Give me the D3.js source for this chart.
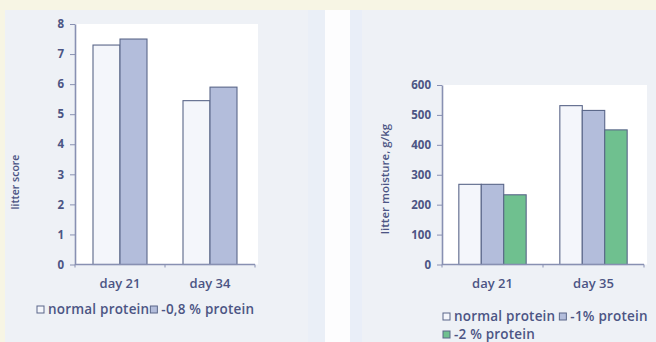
<!DOCTYPE html>
<html>
<head>
<meta charset="utf-8">
<script src="https://cdn.jsdelivr.net/npm/d3@7"></script>
<style>
  html, body { margin: 0; padding: 0; background: #f7f5e4; }
  svg { display: block; }
  text { font-family: "Open Sans", "Noto Sans", sans-serif; fill: #4c5584; }
</style>
</head>
<body>
<svg id="chart" width="656" height="342"></svg>
<script>
// Litter score panel
const scoreDays = ["day 21", "day 34"];
const scoreSeries = ["normal protein", "-0,8 % protein"];
const scoreNormal = [7.3, 5.45];
const scoreReduced = [7.5, 5.9];
const scoreTicks = [0, 1, 2, 3, 4, 5, 6, 7, 8];

// Litter moisture panel
const moistDays = ["day 21", "day 35"];
const moistSeries = ["normal protein", "-1% protein", "-2 % protein"];
const moistNormal = [268, 531];
const moistMinus1 = [268, 515];
const moistMinus2 = [233, 450];
const moistTicks = [0, 100, 200, 300, 400, 500, 600];

const fills = ["#f4f6fb", "#b3bddb", "#6fc08f"];
const barStroke = "#5a6689";
const axisColor = "#8890b2";

const svg = d3.select("#chart");

// panel backgrounds
svg.append("rect").attr("x", 5).attr("y", 10).attr("width", 320).attr("height", 332).attr("fill", "#eef1f6");
svg.append("rect").attr("x", 308).attr("y", 10).attr("width", 17).attr("height", 332).attr("fill", "#eaeff7");
svg.append("rect").attr("x", 325).attr("y", 10).attr("width", 25).attr("height", 332).attr("fill", "#fdfdfe");
svg.append("rect").attr("x", 350).attr("y", 10).attr("width", 306).attr("height", 332).attr("fill", "#eef1f6");
svg.append("rect").attr("x", 350).attr("y", 10).attr("width", 12).attr("height", 332).attr("fill", "#e9eef8");

function panel(cfg) {
  const g = svg.append("g");
  const x = d3.scaleBand().domain(cfg.days).range([cfg.x0, cfg.x1])
    .paddingInner(cfg.pad).paddingOuter(cfg.pad / 2);
  const xs = d3.scaleBand().domain(cfg.series).range([0, x.bandwidth()]);
  const y = d3.scaleLinear().domain([0, cfg.max]).range([cfg.yBottom, cfg.yTop]);

  // white plot area
  g.append("rect").attr("x", cfg.x0 + 1).attr("y", cfg.yTop)
    .attr("width", cfg.x1 - cfg.x0 + 2).attr("height", cfg.yBottom - cfg.yTop)
    .attr("fill", "#ffffff");

  // bars
  cfg.days.forEach((d, i) => {
    cfg.series.forEach((s, j) => {
      const v = cfg.values[j][i];
      g.append("rect")
        .attr("x", x(d) + xs(s))
        .attr("y", y(v))
        .attr("width", xs.bandwidth())
        .attr("height", y(0) - y(v))
        .attr("fill", fills[j])
        .attr("stroke", barStroke)
        .attr("stroke-width", 1.1);
    });
  });

  // y axis
  const ya = g.append("g").attr("transform", `translate(${cfg.x0},0)`)
    .call(d3.axisLeft(y).tickValues(cfg.ticks).tickSize(5).tickSizeOuter(0).tickPadding(6));
  ya.select(".domain").attr("stroke", axisColor).attr("stroke-width", 1.6);
  ya.selectAll(".tick line").attr("stroke", axisColor);
  ya.selectAll(".tick text").style("font-size", "11.5px").style("font-weight", "700")
    .attr("fill", "#4a5386");

  // x axis: baseline with ticks at category boundaries
  const xa = g.append("g");
  xa.append("line").attr("x1", cfg.x0).attr("x2", cfg.x1)
    .attr("y1", y(0)).attr("y2", y(0))
    .attr("stroke", axisColor).attr("stroke-width", 1.6);
  const bounds = [cfg.x0, (cfg.x0 + cfg.x1) / 2, cfg.x1];
  xa.selectAll("line.b").data(bounds).join("line").attr("class", "b")
    .attr("x1", d => d).attr("x2", d => d)
    .attr("y1", y(0)).attr("y2", y(0) + 3)
    .attr("stroke", axisColor);
  xa.selectAll("text").data(cfg.days).join("text")
    .attr("x", d => x(d) + x.bandwidth() / 2)
    .attr("y", y(0) + 23)
    .attr("text-anchor", "middle")
    .style("font-size", "13px").style("font-weight", "600")
    .text(d => d);

  // y title
  g.append("text")
    .attr("transform", `translate(${cfg.titleX},${cfg.titleY}) rotate(-90)`)
    .attr("text-anchor", "middle")
    .style("font-size", cfg.titleSize).style("font-weight", "600")
    .attr("fill", "#3f5b86")
    .text(cfg.title);

  // legend
  cfg.legend.forEach(row => {
    let cx = row.x;
    row.items.forEach(j => {
      g.append("rect").attr("x", cx).attr("y", row.y - 8).attr("width", 7).attr("height", 7)
        .attr("fill", fills[j]).attr("stroke", barStroke).attr("stroke-width", 1);
      const t = g.append("text").attr("x", cx + 11).attr("y", row.y)
        .style("font-size", "13.5px").style("font-weight", "600")
        .style("letter-spacing", "0.2px")
        .text(cfg.series[j]);
      cx += 11 + t.node().getComputedTextLength() + row.gap;
    });
  });
}

panel({
  days: scoreDays, series: scoreSeries, values: [scoreNormal, scoreReduced],
  ticks: scoreTicks, max: 8,
  x0: 75, x1: 255, pad: 0.4, yTop: 24, yBottom: 264.5,
  title: "litter score", titleX: 19, titleY: 182, titleSize: "10.5px",
  legend: [{ x: 37, y: 314, items: [0, 1], gap: 1 }]
});

panel({
  days: moistDays, series: moistSeries, values: [moistNormal, moistMinus1, moistMinus2],
  ticks: moistTicks, max: 600,
  x0: 442, x1: 644, pad: 1 / 3, yTop: 85, yBottom: 264.5,
  title: "litter moisture, g/kg", titleX: 389, titleY: 179, titleSize: "11.5px",
  legend: [{ x: 443, y: 321, items: [0, 1], gap: 4 }, { x: 443, y: 339, items: [2], gap: 4 }]
});
</script>
</body>
</html>
